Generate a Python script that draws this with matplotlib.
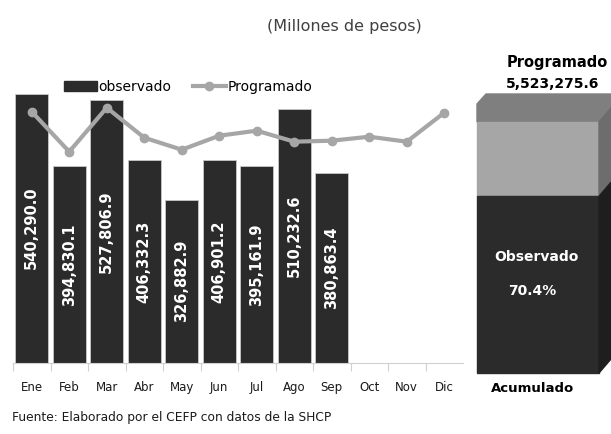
import numpy as np
import matplotlib
matplotlib.use("Agg")
import matplotlib.pyplot as plt
from matplotlib.patches import Polygon
from matplotlib.lines import Line2D
from matplotlib.patches import Rectangle

# datos (millones de pesos)
meses = ["Ene", "Feb", "Mar", "Abr", "May", "Jun", "Jul", "Ago", "Sep", "Oct", "Nov", "Dic"]
observado = [540290.0, 394830.1, 527806.9, 406332.3, 326882.9, 406901.2,
             395161.9, 510232.6, 380863.4]
programado = [504000, 423700, 512000, 451800, 427700, 455800, 465900,
              443800, 445800, 453800, 443800, 502000]
programado_anual = 5523275.6

plt.rcParams["font.family"] = ["DejaVu Sans"]

W, H = 611, 434
fig = plt.figure(figsize=(W / 100, H / 100), dpi=100)

# --- grafica mensual ---
ax = fig.add_axes([13 / W, (H - 362.7) / H, 450 / W, 298.8 / H])
x = np.arange(len(meses))
xo = x[:len(observado)]
ax.bar(xo, observado, width=0.88, color="#2b2b2b", edgecolor="#c8c8c8",
       linewidth=0.6, zorder=2)
ax.plot(x, programado, color="#a6a6a6", lw=3, marker="o", ms=6, zorder=3)

for xi, v in zip(xo, observado):
    ax.text(xi, v / 2, "{:,.1f}".format(v), rotation=90, ha="center",
            va="center", color="white", fontsize=10.5, fontweight="bold",
            zorder=4)

ax.set_xlim(-0.5, 11.5)
ax.set_ylim(0, 600000)
ax.set_xticks(x - 0.5, minor=False)
ax.set_xticklabels([])
ax.set_xticks(x, minor=True)
ax.set_xticklabels(meses, minor=True, fontsize=8.5, color="#1a1a1a")
ax.tick_params(axis="x", which="major", length=6, color="#d0d0d0")
ax.tick_params(axis="x", which="minor", length=0, pad=13)
ax.set_yticks([])
for s in ["left", "right", "top"]:
    ax.spines[s].set_visible(False)
ax.spines["bottom"].set_color("#d0d0d0")

handles = [Rectangle((0, 0), 1, 1, color="#2b2b2b"),
           Line2D([], [], color="#a6a6a6", lw=3, marker="o", ms=6)]
ax.legend(handles, ["observado", "Programado"], loc="center",
          bbox_to_anchor=(0.389, 0.923), ncol=2, frameon=False,
          handlelength=2.4, handletextpad=0.1, columnspacing=1.5,
          prop={"size": 10})

# --- bloque acumulado ---
ov = fig.add_axes([0, 0, 1, 1], zorder=-1)
ov.set_xlim(0, W)
ov.set_ylim(H, 0)
ov.axis("off")

x0, x1 = 477, 599
ytop, ybot = 122, 373
dx, dy = 12, 14
frac = sum(observado) / programado_anual
ysplit = ybot - frac * (ybot - ytop)

ov.add_patch(Polygon([(x0, ytop), (x0, 104), (486, 94), (x1 + dx, 94),
                      (x1 + dx, ytop - dy), (x1, ytop)], color="#7f7f7f"))
ov.add_patch(Polygon([(x0, ytop), (x1, ytop), (x1, ysplit), (x0, ysplit)],
                     color="#a6a6a6"))
ov.add_patch(Polygon([(x0, ysplit), (x1, ysplit), (x1, ybot), (x0, ybot)],
                     color="#2b2b2b"))
ov.add_patch(Polygon([(x1, ytop), (x1 + dx, ytop - dy), (x1 + dx, ysplit - dy),
                      (x1, ysplit)], color="#6d6d6d"))
ov.add_patch(Polygon([(x1, ysplit), (x1 + dx, ysplit - dy), (x1 + dx, ybot - dy),
                      (x1, ybot)], color="#1e1e1e"))

ov.text(557, 63, "Programado", ha="center", va="center", fontsize=10.5,
        fontweight="bold")
ov.text(553, 84, "{:,.1f}".format(programado_anual), ha="center", va="center",
        fontsize=10, fontweight="bold")
ov.text(536, 257, "Observado", ha="center", va="center", fontsize=10,
        fontweight="bold", color="white")
ov.text(532, 291, "{:.1f}%".format(frac * 100), ha="center", va="center",
        fontsize=10, fontweight="bold", color="white")
ov.text(533, 388, "Acumulado", ha="center", va="center", fontsize=9.5,
        fontweight="bold")

ov.text(344, 26, "(Millones de pesos)", ha="center", va="center",
        fontsize=11.5, color="#404040")
ov.text(12, 418, "Fuente: Elaborado por el CEFP con datos de la SHCP",
        ha="left", va="center", fontsize=8.8, color="#1a1a1a")

fig.savefig("out.png", dpi=100)
